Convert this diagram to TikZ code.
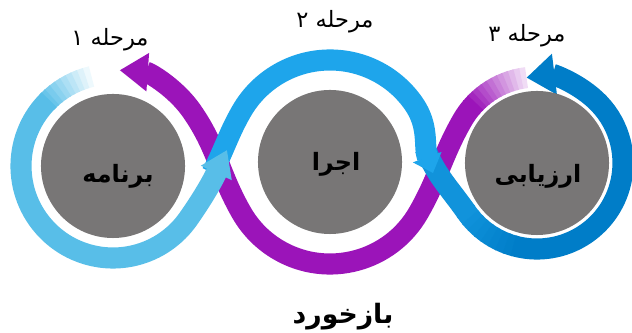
\documentclass[tikz,border=0pt]{standalone}
\usepackage{fontspec}
\newfontfamily\farsi[Script=Arabic]{DejaVu Sans}
\TeXXeTstate=1
\definecolor{planblue}{RGB}{88,190,232}
\definecolor{runblue}{RGB}{30,165,235}
\definecolor{evalblue}{RGB}{0,125,200}
\definecolor{loopviolet}{RGB}{155,20,185}
\definecolor{discgray}{RGB}{120,118,118}
\usetikzlibrary{arrows.meta,calc}

\begin{document}
\begin{tikzpicture}[x=0.025cm, y=0.025cm,
    band/.style={line width=15pt},
    disc/.style={circle, fill=discgray, minimum size=3.6cm, inner sep=0pt},
    stagelbl/.style={font=\farsi\fontsize{16}{19}\selectfont},
    disclbl/.style={font=\farsi\bfseries\fontsize{17}{20}\selectfont}]
    \useasboundingbox (0,0) rectangle (632,333);
    % Stage centres
    \coordinate (p1) at (113,167);
    \coordinate (p2) at (330,171);
    \coordinate (p3) at (537,170);
    % Feedback loop (violet), fading in at stage 3
    \foreach \i in {0,...,11}{
      \pgfmathtruncatemacro\p{15+\i*85/11}
      \draw[band, loopviolet!\p!white]
        ($(p3)+(97+3.5*\i:86)$) arc[start angle=97+3.5*\i, end angle=101.5+3.5*\i, radius=86];
    }
    \draw[band, loopviolet, -{Triangle[length=20pt,width=26pt]}]
      ($(p3)+(139:86)$) arc[start angle=139, end angle=150, radius=86]
      to[out=240,in=60] ($(p2)+(-30:102)$)
      arc[start angle=-30, end angle=-150, radius=102]
      to[out=120,in=-55] ($(p1)+(35:96)$)
      arc[start angle=35, end angle=86, radius=96];
    % Stage 3 ring, darkening after the crossing
    \draw[band, runblue!55!evalblue]
      (425,185) to[out=-68,in=125] ($(p3)+(215:86)$);
    \foreach \i in {0,...,7}{
      \pgfmathtruncatemacro\p{55-\i*7}
      \draw[band, runblue!\p!evalblue]
        ($(p3)+(214+5*\i:86)$) arc[start angle=214+5*\i, end angle=220+5*\i, radius=86];
    }
    \draw[band, evalblue, -{Triangle[length=20pt,width=28pt]}]
      ($(p3)+(254:86)$) arc[start angle=254, end angle=457, radius=86];
    % Stage 2 ring
    \draw[band, runblue, -{Triangle[length=12pt,width=21pt]}]
      (212,160) to[out=62,in=240] ($(p2)+(150:102)$)
      arc[start angle=150, end angle=35, radius=102]
      to[out=-55,in=110] (433,160);
    % Stage 1 ring, fading in at the top
    \foreach \i in {0,...,9}{
      \pgfmathtruncatemacro\p{\i*10}
      \draw[band, planblue!\p!white]
        ($(p1)+(100+3.5*\i:92)$) arc[start angle=100+3.5*\i, end angle=104.5+3.5*\i, radius=92];
    }
    \draw[band, planblue, -{Triangle[length=18pt,width=23pt]}]
      ($(p1)+(134:92)$) arc[start angle=134, end angle=325, radius=92]
      to[out=55,in=245] (227,183);
    % Stages
    \node[disc] (plan) at (p1) {};
    \node[disc] (run) at (p2) {};
    \node[disc] (eval) at (p3) {};
    \node[disclbl] (plantxt) at (118,157) {\beginR برنامه\endR};
    \node[disclbl] (runtxt) at (336,169) {\beginR اجرا\endR};
    \node[disclbl] (evaltxt) at (538,157) {\beginR ارزیابی\endR};
    \foreach \n/\x/\y/\txt in {st1/110/293/مرحله ۱, st2/335/311/مرحله ۲, st3/527/297/مرحله ۳}
      \node[stagelbl] (\n) at (\x,\y) {\beginR\txt\endR};
    \node[disclbl, font=\farsi\bfseries\fontsize{19}{22}\selectfont] (back) at (343,16) {\beginR بازخورد\endR};
\end{tikzpicture}
\end{document}
